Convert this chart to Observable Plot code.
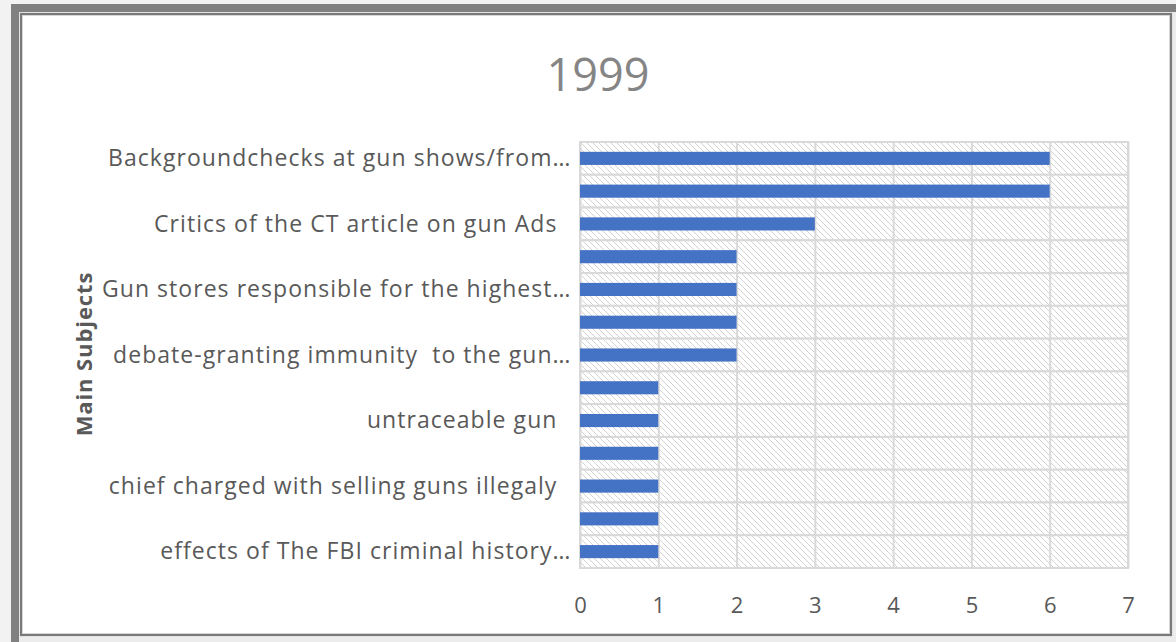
<!DOCTYPE html>
<html>
<head>
<meta charset="utf-8">
<script src="https://cdn.jsdelivr.net/npm/d3@7"></script>
<script src="https://cdn.jsdelivr.net/npm/@observablehq/plot@0.6"></script>
<style>
  html, body { margin: 0; padding: 0; }
  body { width: 1176px; height: 642px; overflow: hidden; position: relative; background: #f2f2f2; font-family: "Open Sans", sans-serif; }
  #outer { position: absolute; left: 11px; top: 4px; width: 1165px; height: 638px; box-sizing: border-box;
           border-top: 8px solid #808080; border-left: 8px solid #808080; background: #ececec; }
  #inner { position: absolute; left: 20px; top: 13px; width: 1152px; height: 623px; box-sizing: border-box;
           border: 2px solid #7a7a7a; background: #fff; box-shadow: inset 0 0 0 1px #d6d6d6, 0 0 0 1px #e2e2e2; }
  #title { position: absolute; left: 398px; width: 400px; top: 44px; text-align: center; font-size: 45px; color: #858585; line-height: 60px; }
  #ylabel { position: absolute; left: 83px; top: 354px; transform: translate(-50%, -50%) rotate(-90deg); white-space: nowrap;
            font-size: 22px; letter-spacing: 0.9px; font-weight: bold; color: #595959; }
  #chart { position: absolute; left: 0; top: 120px; }
  #chart svg { display: block; }
  #chart svg text { white-space: pre; }
  #chart g[aria-label="y-axis tick label"] text { letter-spacing: 1.05px; }
</style>
</head>
<body>
<div id="outer"></div>
<div id="inner"></div>
<div id="title">1999</div>
<div id="ylabel">Main Subjects</div>
<div id="chart"></div>
<script>
// Categories from top to bottom (only every other label is shown in the reference)
const subjects = [
  "Backgroundchecks at gun shows/from…",
  "(subject 2)",
  "Critics of the CT article on gun Ads  ",
  "(subject 4)",
  "Gun stores responsible for the highest…",
  "(subject 6)",
  "debate-granting immunity  to the gun…",
  "(subject 8)",
  "untraceable gun  ",
  "(subject 10)",
  "chief charged with selling guns illegaly  ",
  "(subject 12)",
  "effects of The FBI criminal history…"
];
const counts = [6, 6, 3, 2, 2, 2, 2, 1, 1, 1, 1, 1, 1];
const xTicks = [0, 1, 2, 3, 4, 5, 6, 7];
const shownLabels = subjects.filter((d, i) => i % 2 === 0);

const data = subjects.map((s, i) => ({subject: s, count: counts[i]}));

const W = 1176, H = 510;
const mTop = 22, mBottom = 62, mLeft = 580, mRight = 48;
const padInner = 0.6;
const step = (H - mTop - mBottom) / subjects.length;
const halfGap = step * padInner / 2;

const plot = Plot.plot({
  width: W,
  height: H,
  marginTop: mTop,
  marginBottom: mBottom,
  marginLeft: mLeft,
  marginRight: mRight,
  style: {fontFamily: "'Open Sans', sans-serif", fontSize: "23px", color: "#595959", background: "transparent", overflow: "visible"},
  x: {domain: [0, 7], axis: null},
  y: {domain: subjects, paddingInner: padInner, paddingOuter: padInner / 2, round: false, axis: null},
  marks: [
    // hatched background cells with horizontal gridlines at category boundaries
    Plot.barX(subjects, {x1: 0, x2: 7, y: d => d, fill: "url(#hatch)", stroke: "#d9d9d9", strokeWidth: 2,
      insetTop: -halfGap, insetBottom: -halfGap}),
    Plot.ruleX(xTicks, {stroke: "#d9d9d9", strokeWidth: 2}),
    Plot.barX(data, {x: "count", y: "subject", fill: "#4472C4"}),
    Plot.axisX({ticks: xTicks, tickSize: 0, tickPadding: 29, fontSize: 22, label: null, anchor: "bottom", tickFormat: d3.format("d")}),
    Plot.axisY({ticks: shownLabels, tickSize: 0, tickPadding: 9, label: null, anchor: "left", tickFormat: d => d})
  ]
});

// hatch pattern definition
const defs = d3.create("svg:defs");
const pat = defs.append("pattern").attr("id", "hatch").attr("patternUnits", "userSpaceOnUse")
  .attr("width", 6).attr("height", 6);
pat.append("rect").attr("width", 6).attr("height", 6).attr("fill", "#ffffff");
pat.append("path").attr("d", "M0,0L6,6M-1,5L1,7M5,-1L7,1")
  .attr("stroke", "#d2d2d2").attr("stroke-width", 1).attr("fill", "none");
plot.insertBefore(defs.node(), plot.firstChild);

document.getElementById("chart").appendChild(plot);
</script>
</body>
</html>
